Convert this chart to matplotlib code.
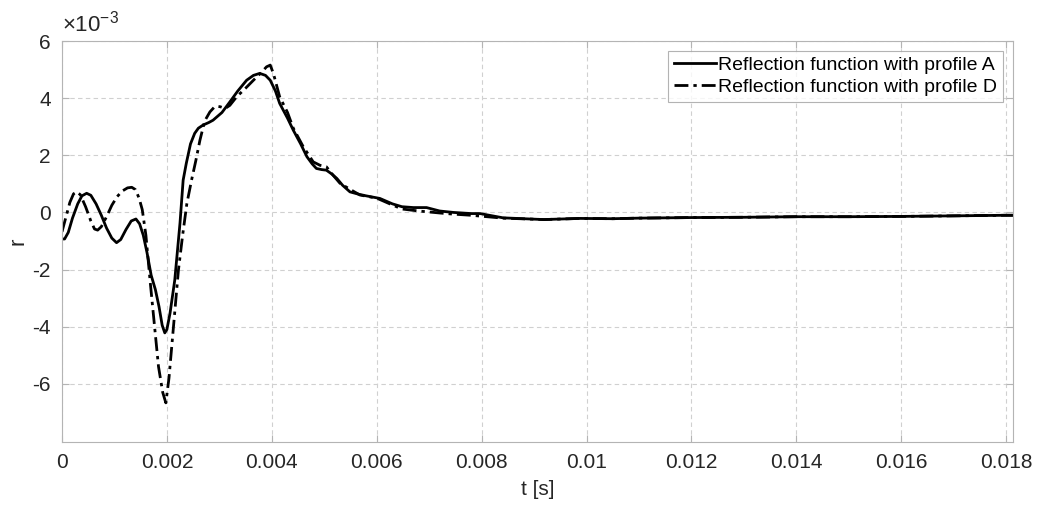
import matplotlib
matplotlib.use("Agg")
import matplotlib.pyplot as plt
from matplotlib.ticker import FuncFormatter

plt.rcParams['font.family'] = ['Liberation Sans', 'DejaVu Sans']
plt.rcParams['mathtext.default'] = 'regular'
plt.rcParams['axes.unicode_minus'] = False

# profile A (t in ms, r in 1e-3)
t_a = [0, 0.05, 0.12, 0.2, 0.3, 0.38, 0.47, 0.55, 0.65, 0.75, 0.85, 0.95,
       1.04, 1.12, 1.22, 1.32, 1.41, 1.48, 1.55, 1.62, 1.7, 1.78, 1.85, 1.91,
       1.96, 2.0, 2.06, 2.15, 2.25, 2.31, 2.37, 2.45, 2.53, 2.6, 2.69, 2.8,
       2.88, 3.05, 3.2, 3.35, 3.52, 3.65, 3.77, 3.88, 3.97, 4.07, 4.15, 4.3,
       4.41, 4.55, 4.67, 4.77, 4.85, 4.95, 5.04, 5.14, 5.24, 5.35, 5.49, 5.65,
       5.8, 6.06, 6.3, 6.48, 6.7, 6.95, 7.2, 7.46, 7.8, 7.97, 8.41, 9.18,
       9.87, 10.5, 11, 12, 13, 14, 15, 16, 17, 18, 18.13]
r_a = [-0.93, -0.93, -0.7, -0.2, 0.3, 0.58, 0.67, 0.6, 0.3, -0.1, -0.55,
       -0.9, -1.06, -0.95, -0.6, -0.3, -0.23, -0.4, -0.8, -1.4, -2.2, -2.7,
       -3.3, -3.95, -4.22, -4.1, -3.53, -2.37, -0.37, 1.13, 1.72, 2.4, 2.77,
       2.95, 3.06, 3.15, 3.23, 3.5, 3.87, 4.25, 4.63, 4.8, 4.87, 4.8, 4.63,
       4.25, 3.82, 3.3, 2.88, 2.4, 1.95, 1.7, 1.54, 1.5, 1.48, 1.35, 1.19,
       0.95, 0.72, 0.64, 0.58, 0.49, 0.3, 0.2, 0.17, 0.17, 0.05, 0.0, -0.04,
       -0.04, -0.19, -0.25, -0.21, -0.22, -0.2, -0.18, -0.17, -0.15, -0.15,
       -0.14, -0.12, -0.1, -0.1]

# profile D
t_d = [0, 0.07, 0.15, 0.22, 0.28, 0.35, 0.45, 0.55, 0.62, 0.68, 0.75, 0.85,
       0.95, 1.05, 1.15, 1.25, 1.33, 1.4, 1.47, 1.53, 1.6, 1.68, 1.76, 1.84,
       1.92, 1.98, 2.04, 2.12, 2.22, 2.3, 2.38, 2.47, 2.55, 2.63, 2.72, 2.82,
       2.9, 2.95, 3.02, 3.11, 3.2, 3.33, 3.5, 3.65, 3.8, 3.9, 3.97, 4.03,
       4.15, 4.3, 4.41, 4.6, 4.79, 4.92, 5.04, 5.17, 5.3, 5.5, 5.68, 6.0,
       6.25, 6.48, 6.8, 7.2, 7.46, 7.8, 8.4, 9.2, 9.87, 10.5, 11, 12, 13, 14,
       15, 16, 17, 18, 18.13]
r_d = [-0.68, -0.2, 0.35, 0.65, 0.72, 0.62, 0.2, -0.3, -0.58, -0.62, -0.5,
       -0.15, 0.25, 0.55, 0.75, 0.86, 0.88, 0.8, 0.5, 0.1, -0.8, -2.4, -3.9,
       -5.4, -6.3, -6.67, -5.8, -4.12, -2.02, -0.8, 0.3, 1.13, 1.8, 2.53, 3.2,
       3.52, 3.68, 3.72, 3.7, 3.64, 3.75, 4.05, 4.35, 4.63, 4.9, 5.1, 5.16,
       4.87, 4.05, 3.5, 2.95, 2.3, 1.77, 1.65, 1.6, 1.3, 1.02, 0.8, 0.61, 0.5,
       0.3, 0.12, 0.05, -0.02, -0.06, -0.1, -0.2, -0.25, -0.21, -0.22, -0.2,
       -0.18, -0.17, -0.15, -0.15, -0.14, -0.12, -0.1, -0.1]

labels = ['Reflection function with profile A', 'Reflection function with profile D']

fig = plt.figure(figsize=(10.4, 5.14), dpi=100)
ax = fig.add_axes([0.0596, 0.1407, 0.9144, 0.7793])

ax.plot([t / 1000 for t in t_a], r_a, color='black', lw=2.0, label=labels[0])
ax.plot([t / 1000 for t in t_d], r_d, color='black', lw=2.0,
        linestyle=(0, (5, 1.8, 1.2, 1.8)), label=labels[1])

ax.set_xlim(0, 0.01813)
ax.set_ylim(-8.03, 6)
ax.set_xticks([0.002 * i for i in range(10)])
ax.set_yticks([-6, -4, -2, 0, 2, 4, 6])
ax.xaxis.set_major_formatter(FuncFormatter(lambda v, p: '%g' % round(v, 4)))

ax.grid(True, linestyle=(0, (4, 3)), color='#d0d0d0', linewidth=0.8)
for s in ax.spines.values():
    s.set_color('#b4b4b4')
ax.tick_params(direction='in', colors='#b4b4b4', labelcolor='#262626',
               labelsize=15, length=5, top=True, right=True, pad=8)

ax.set_xlabel('t [s]', fontsize=15, color='#262626', labelpad=6)
ax.set_ylabel('r', fontsize=16, color='#262626', labelpad=3)
ax.text(0.0, 1.012, r'$\times10^{-3}$', transform=ax.transAxes,
        fontsize=16, color='#262626', ha='left', va='bottom')

leg = ax.legend(loc='upper right', fontsize=14, frameon=True, fancybox=False,
                handlelength=2.2, handletextpad=0.1, borderpad=0.3,
                labelspacing=0.2, borderaxespad=0.5)
leg.get_frame().set_edgecolor('#a0a0a0')
leg.get_frame().set_linewidth(0.8)

fig.savefig('out.png', dpi=100)
